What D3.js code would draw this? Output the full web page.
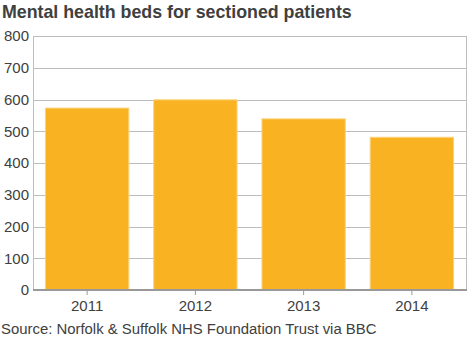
<!DOCTYPE html>
<html><head><meta charset="utf-8">
<script src="https://cdn.jsdelivr.net/npm/d3@7"></script>
<style>body{margin:0;background:#fff;font-family:"Liberation Sans",Arial,sans-serif;}</style>
</head><body><svg id="c" width="468" height="339"></svg>
<script>
const categories = ["2011","2012","2013","2014"];
const values = [573, 599, 539, 481];
const yTicks = [0,100,200,300,400,500,600,700,800];
const title = "Mental health beds for sectioned patients";
const source = "Source: Norfolk & Suffolk NHS Foundation Trust via BBC";

const svg = d3.select("#c");
const m = {l:33, r:466, t:36, b:290};
const x = d3.scaleBand().domain(categories).range([m.l, m.r]).paddingInner(0.23).paddingOuter(0.115);
const y = d3.scaleLinear().domain([0,800]).range([m.b, m.t]);

svg.append("text").attr("x",2).attr("y",18).attr("font-size",17.8).attr("font-weight","bold")
  .attr("fill","#404040").text(title);

// grid
svg.append("g").selectAll("line").data(yTicks.filter(d=>d>0)).join("line")
  .attr("x1",m.l).attr("x2",m.r).attr("y1",d=>Math.round(y(d))+0.5).attr("y2",d=>Math.round(y(d))+0.5)
  .attr("stroke","#bdbdbd").attr("stroke-width",1);
// right & left border
svg.append("line").attr("x1",m.r+0.5).attr("x2",m.r+0.5).attr("y1",m.t).attr("y2",m.b).attr("stroke","#bdbdbd");
svg.append("line").attr("x1",m.l+0.5).attr("x2",m.l+0.5).attr("y1",m.t).attr("y2",m.b).attr("stroke","#bdbdbd");

// bars
svg.append("g").selectAll("rect").data(values).join("rect")
  .attr("x",(d,i)=>x(categories[i])).attr("width",x.bandwidth())
  .attr("y",d=>y(d)).attr("height",d=>y(0)-y(d))
  .attr("fill","#f9b322").attr("stroke","#fcd27a").attr("stroke-width",1);

// y axis labels
const ya = d3.axisLeft(y).tickValues(yTicks).tickSize(0).tickPadding(4);
const gy = svg.append("g").attr("transform",`translate(${m.l},0)`).call(ya);
gy.select(".domain").remove();
gy.selectAll("text").attr("font-size",15).attr("fill","#404040").attr("font-family","Liberation Sans, Arial, sans-serif");

// x axis
const xa = d3.axisBottom(x).tickSize(5).tickPadding(5);
const gx = svg.append("g").attr("transform",`translate(0,${m.b})`).call(xa);
gx.select(".domain").attr("stroke","#999").attr("stroke-width",2).attr("d",`M${m.l},0H${m.r+1}`);
gx.selectAll(".tick line").attr("stroke","#999");
gx.selectAll("text").attr("font-size",15).attr("fill","#404040").attr("font-family","Liberation Sans, Arial, sans-serif");

svg.append("text").attr("x",1).attr("y",334).attr("font-size",14.9).attr("fill","#404040").text(source);
</script></body></html>
